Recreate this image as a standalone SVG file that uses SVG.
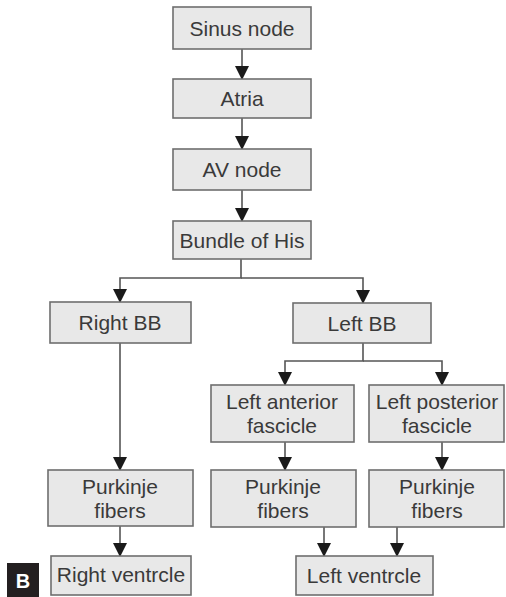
<svg xmlns="http://www.w3.org/2000/svg" width="506" height="597" viewBox="0 0 506 597">
<defs>
<style>
.box{fill:#e8e8e8;stroke:#6e6e6e;stroke-width:1.6}
.t{font-family:"Liberation Sans",Arial,sans-serif;font-size:21px;fill:#3a3a3a;text-anchor:middle}
.c{fill:none;stroke:#555;stroke-width:1.6}
</style>
<marker id="ah" markerWidth="14" markerHeight="15" refX="13" refY="7" orient="auto" markerUnits="userSpaceOnUse">
<path d="M0,0 L14,7 L0,14 Z" fill="#1a1a1a"/>
</marker>
</defs>
<rect width="506" height="597" fill="#fff"/>
<g id="connectors">
<path class="c" d="M242,49 V79" marker-end="url(#ah)"/>
<path class="c" d="M242,118 V149" marker-end="url(#ah)"/>
<path class="c" d="M242,190 V221" marker-end="url(#ah)"/>
<path class="c" d="M241,259 V278 H120 V302" marker-end="url(#ah)"/>
<path class="c" d="M241,278 H363 V303" marker-end="url(#ah)"/>
<path class="c" d="M363,343 V361 H285 V385" marker-end="url(#ah)"/>
<path class="c" d="M363,361 H442 V385" marker-end="url(#ah)"/>
<path class="c" d="M120,343 V470" marker-end="url(#ah)"/>
<path class="c" d="M285,442 V470" marker-end="url(#ah)"/>
<path class="c" d="M442,442 V470" marker-end="url(#ah)"/>
<path class="c" d="M120,526 V556" marker-end="url(#ah)"/>
<path class="c" d="M324,527 V556" marker-end="url(#ah)"/>
<path class="c" d="M397,527 V556" marker-end="url(#ah)"/>
</g>
<g id="sinus"><rect class="box" x="173" y="7" width="138" height="42"/><text class="t" x="242" y="36">Sinus node</text></g>
<g id="atria"><rect class="box" x="173" y="79" width="138" height="39"/><text class="t" x="242" y="106">Atria</text></g>
<g id="avnode"><rect class="box" x="173" y="149" width="138" height="41"/><text class="t" x="242" y="177">AV node</text></g>
<g id="bundle"><rect class="box" x="173" y="221" width="138" height="38"/><text class="t" x="242" y="248">Bundle of His</text></g>
<g id="rightBB"><rect class="box" x="50" y="302" width="141" height="41"/><text class="t" x="120" y="330">Right BB</text></g>
<g id="leftBB"><rect class="box" x="293" y="303" width="138" height="40"/><text class="t" x="362" y="331">Left BB</text></g>
<g id="leftAnt"><rect class="box" x="211" y="385" width="143" height="57"/><text class="t" x="282" y="409">Left anterior</text><text class="t" x="282" y="433">fascicle</text></g>
<g id="leftPost"><rect class="box" x="369" y="385" width="135" height="57"/><text class="t" x="437" y="409">Left posterior</text><text class="t" x="437" y="433">fascicle</text></g>
<g id="purkL"><rect class="box" x="48" y="470" width="145" height="56"/><text class="t" x="120" y="494">Purkinje</text><text class="t" x="120" y="518">fibers</text></g>
<g id="purkM"><rect class="box" x="211" y="470" width="145" height="57"/><text class="t" x="283" y="494">Purkinje</text><text class="t" x="283" y="518">fibers</text></g>
<g id="purkR"><rect class="box" x="369" y="470" width="135" height="57"/><text class="t" x="437" y="494">Purkinje</text><text class="t" x="437" y="518">fibers</text></g>
<g id="rightV"><rect class="box" x="51" y="556" width="140" height="39"/><text class="t" x="121" y="582">Right ventrcle</text></g>
<g id="leftV"><rect class="box" x="296" y="556" width="137" height="39"/><text class="t" x="364" y="583">Left ventrcle</text></g>
<g id="label"><rect x="7" y="563" width="32" height="34" fill="#231f20"/><text x="23" y="588" font-family="Liberation Sans,Arial,sans-serif" font-size="20" font-weight="bold" fill="#fff" text-anchor="middle">B</text></g>
</svg>
